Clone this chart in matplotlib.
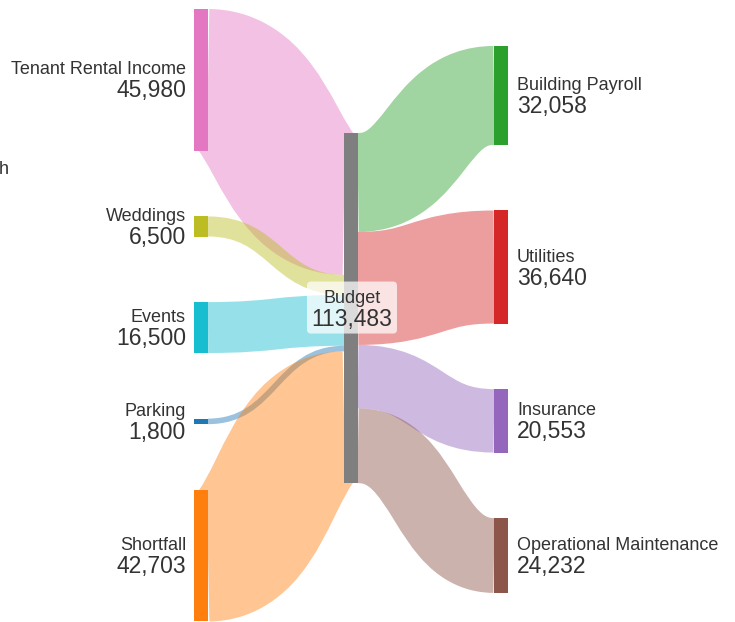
import matplotlib.pyplot as plt
from matplotlib.path import Path
from matplotlib.patches import PathPatch, FancyBboxPatch, Rectangle

# Budget flows: incomes -> Budget -> expenses
sources = ["Tenant Rental Income", "Weddings", "Events", "Parking", "Shortfall"]
source_values = [45980, 6500, 16500, 1800, 42703]
source_colors = ["#e377c2", "#bcbd22", "#17becf", "#1f77b4", "#ff7f0e"]

targets = ["Building Payroll", "Utilities", "Insurance", "Operational Maintenance"]
target_values = [32058, 36640, 20553, 24232]
target_colors = ["#2ca02c", "#d62728", "#9467bd", "#8c564b"]

hub = "Budget"
hub_color = "#7f7f7f"

# layout (pixel units, axes spans the whole figure)
W, H, DPI = 735, 622, 100
k = 0.003085          # px per unit
gap = 65.6
node_w = 14
col_x = [194, 344, 494]
col_top = [9, 133, 46]
link_alpha = 0.45
text_color = "#333333"
plt.rcParams['font.family'] = ['Liberation Sans', 'DejaVu Sans']

fig = plt.figure(figsize=(W / DPI, H / DPI), dpi=DPI)
ax = fig.add_axes([0, 0, 1, 1])
ax.set_xlim(0, W)
ax.set_ylim(H, 0)
ax.axis("off")


def stack(values, top):
    tops = []
    y = top
    for v in values:
        tops.append(y)
        y += v * k + gap
    return tops


def link(x0, y0, x1, y1, width, color):
    # d3-style link: bezier centre line stroked with the flow width
    xm = (x0 + x1) / 2
    verts = [(x0, y0), (xm, y0), (xm, y1), (x1, y1)]
    codes = [Path.MOVETO, Path.CURVE4, Path.CURVE4, Path.CURVE4]
    ax.add_patch(PathPatch(Path(verts, codes), fill=False, edgecolor=color,
                           alpha=link_alpha, lw=width * 72 / DPI,
                           capstyle="butt", joinstyle="round"))


def label(x, yc, name, value, ha):
    ax.text(x, yc - 5.5, name, ha=ha, va="baseline", fontsize=13, color=text_color)
    ax.text(x, yc + 17.5, f"{value:,}", ha=ha, va="baseline", fontsize=16.5, color=text_color)


src_tops = stack(source_values, col_top[0])
tgt_tops = stack(target_values, col_top[2])
hub_total = sum(source_values)
hub_top = col_top[1]

# incoming links
y_in = hub_top
for top, v, c in zip(src_tops, source_values, source_colors):
    h = v * k
    link(col_x[0] + node_w, top + h / 2, col_x[1], y_in + h / 2, h, c)
    y_in += h

# outgoing links
y_out = hub_top
for top, v, c in zip(tgt_tops, target_values, target_colors):
    h = v * k
    link(col_x[1] + node_w, y_out + h / 2, col_x[2], top + h / 2, h, c)
    y_out += h

# nodes
for top, v, c, n in zip(src_tops, source_values, source_colors, sources):
    ax.add_patch(Rectangle((col_x[0], top), node_w, v * k, color=c, lw=0))
    label(col_x[0] - 8, top + v * k / 2, n, v, "right")

for top, v, c, n in zip(tgt_tops, target_values, target_colors, targets):
    ax.add_patch(Rectangle((col_x[2], top), node_w, v * k, color=c, lw=0))
    label(col_x[2] + node_w + 9, top + v * k / 2, n, v, "left")

ax.add_patch(Rectangle((col_x[1], hub_top), node_w, hub_total * k, color=hub_color, lw=0))
hx = col_x[1] + node_w / 2
hy = hub_top + hub_total * k / 2
ax.add_patch(FancyBboxPatch((hx - 44, hy - 26.5), 90, 52,
                            boxstyle="round,pad=0,rounding_size=4",
                            facecolor="white", edgecolor="none", alpha=0.72))
label(hx + 1, hy, hub, hub_total, "center")

# fragment of a text clipped at the left edge
ax.text(-1, 170, "h", ha="left", va="center", fontsize=13, color=text_color)

fig.savefig("out.png", dpi=DPI)
